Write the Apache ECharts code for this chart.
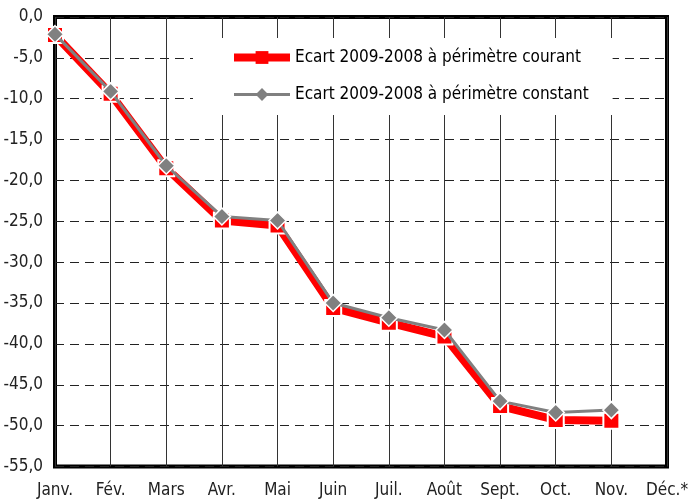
<!DOCTYPE html>
<html>
<head>
<meta charset="utf-8">
<script src="https://cdn.jsdelivr.net/npm/echarts@6/dist/echarts.min.js"></script>
<style>html,body{margin:0;padding:0;background:#fff}#c{width:696px;height:500px}</style>
</head>
<body>
<div id="c"></div>
<script>
const categories = ['Janv.', 'Fév.', 'Mars', 'Avr.', 'Mai', 'Juin', 'Juil.', 'Août', 'Sept.', 'Oct.', 'Nov.', 'Déc.*'];
const courant = [-2.2, -9.4, -18.5, -24.9, -25.5, -35.6, -37.4, -39.1, -47.6, -49.3, -49.4, null];
const constant = [-2.1, -9.1, -18.2, -24.4, -24.9, -35.0, -36.8, -38.3, -47.0, -48.4, -48.1, null];
const seriesNames = ['Ecart 2009-2008 à périmètre courant', 'Ecart 2009-2008 à périmètre constant'];

const FONT = '"Liberation Sans Narrow", "Arial Narrow", "DejaVu Sans Condensed", sans-serif';
const chart = echarts.init(document.getElementById('c'), null, {renderer: 'canvas'});
chart.setOption({
  animation: false,
  backgroundColor: '#fff',
  grid: {left: 55, right: 29, top: 17, bottom: 33.5, show: true, borderColor: '#000', borderWidth: 4, backgroundColor: 'transparent'},
  legend: {
    orient: 'vertical', left: 193, top: 38,
    backgroundColor: '#fff',
    padding: [11, 24, 12, 37],
    itemWidth: 56, itemHeight: 16, itemGap: 20,
    textStyle: {fontFamily: FONT, fontSize: 17, color: '#000'},
    data: [
      {name: seriesNames[0], lineStyle: {width: 8}, itemStyle: {borderWidth: 0}},
      {name: seriesNames[1], lineStyle: {width: 3}, itemStyle: {borderWidth: 0}}
    ]
  },
  xAxis: {
    type: 'category', data: categories, boundaryGap: false,
    axisLine: {show: false}, axisTick: {show: false},
    axisLabel: {fontFamily: FONT, fontSize: 17, color: '#222', margin: 16, interval: 0},
    splitLine: {show: true, lineStyle: {color: '#333', width: 1, type: 'solid'}}
  },
  yAxis: {
    type: 'value', min: -55, max: 0, interval: 5,
    axisLine: {show: false}, axisTick: {show: false},
    axisLabel: {fontFamily: FONT, fontSize: 17, color: '#222', margin: 12, formatter: v => v.toFixed(1).replace('.', ',')},
    splitLine: {show: true, lineStyle: {color: '#222', width: 1.2, type: [9, 6]}}
  },
  series: [
    {
      name: seriesNames[0], type: 'line', data: courant, z: 3,
      lineStyle: {color: '#ff0000', width: 8},
      itemStyle: {color: '#ff0000', borderColor: '#fff', borderWidth: 2},
      symbol: 'rect', symbolSize: 16, showAllSymbol: true
    },
    {
      name: seriesNames[1], type: 'line', data: constant, z: 4,
      lineStyle: {color: '#808080', width: 3},
      itemStyle: {color: '#808080', borderColor: '#fff', borderWidth: 1.5},
      symbol: 'diamond', symbolSize: 17, showAllSymbol: true
    }
  ]
});
</script>
</body>
</html>
